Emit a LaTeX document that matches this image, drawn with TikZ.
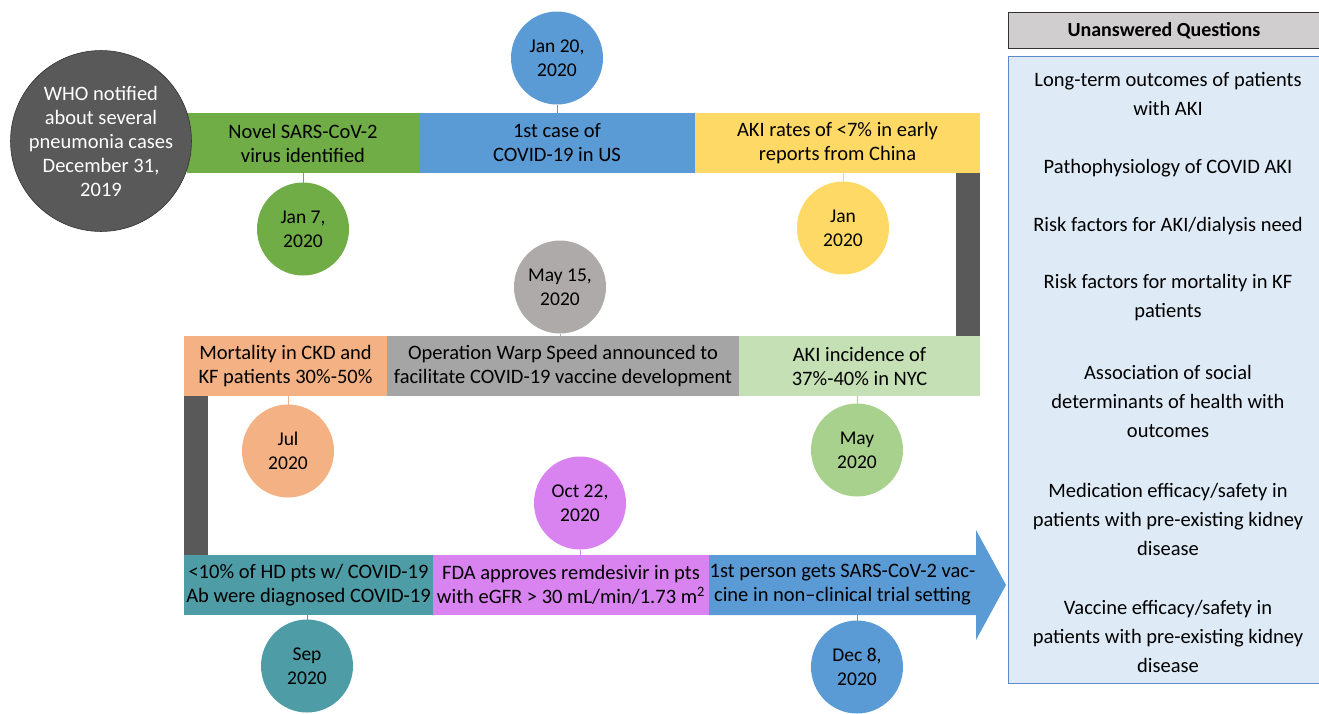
\documentclass[tikz,border=0pt]{standalone}
\usepackage{fontspec}
\setmainfont{Carlito}
\usetikzlibrary{shapes.geometric}
\definecolor{cgreen}{HTML}{70AD47}
\definecolor{cblue}{HTML}{5B9BD5}
\definecolor{cyellow}{HTML}{FFD966}
\definecolor{cdark}{HTML}{595959}
\definecolor{corange}{HTML}{F4B183}
\definecolor{cgraybar}{HTML}{A5A5A5}
\definecolor{cgraycirc}{HTML}{AEAAAA}
\definecolor{clgreen}{HTML}{C5E0B4}
\definecolor{clgreenc}{HTML}{A9D18E}
\definecolor{cteal}{HTML}{4E9CA6}
\definecolor{cpurple}{HTML}{D883F0}
\definecolor{cpanel}{HTML}{DEEBF7}
\definecolor{cpanelline}{HTML}{5B8BC9}
\definecolor{cheader}{HTML}{D0CECE}
\newcommand{\bartxt}{\fontsize{20.5}{24}\selectfont}
\newcommand{\datetxt}{\fontsize{19.5}{24}\selectfont}
\newcommand{\qtxt}{\fontsize{20.5}{29}\selectfont}
\begin{document}
\begin{tikzpicture}[x=1pt,y=-1pt,
  bar/.style={rectangle, inner sep=0pt, outer sep=0pt, minimum height=60pt, anchor=north west, align=center, font=\bartxt},
  vbar/.style={rectangle, inner sep=0pt, outer sep=0pt, anchor=north west, fill=cdark},
  date/.style={ellipse, inner sep=0pt, outer sep=0pt, minimum width=92pt, minimum height=93pt, align=center, font=\datetxt},
  link/.style={line width=0.8pt},
  qitem/.style={align=center, font=\qtxt, inner sep=0pt}
]
\useasboundingbox (0,0) rectangle (1319,713);
% vertical connectors
\node[vbar, minimum width=24pt, minimum height=165pt] (v1) at (956,172) {};
\node[vbar, minimum width=24pt, minimum height=161pt] (v2) at (184,395) {};
% row 1
\node[bar, fill=cgreen, minimum width=232pt] (b1) at (187,113) {Novel SARS-CoV-2\\virus identified};
\node[bar, fill=cblue, minimum width=276pt] (b2) at (419,113) {1st case of\\COVID-19 in US};
\node[bar, fill=cyellow, minimum width=285pt] (b3) at (695,113) {AKI rates of <7\% in early\\reports from China};
% row 2
\node[bar, fill=corange, minimum width=203pt] (b4) at (184,336) {Mortality in CKD and\\KF patients 30\%-50\%};
\node[bar, fill=cgraybar, minimum width=352pt] (b5) at (387,336) {Operation Warp Speed announced to\\facilitate COVID-19 vaccine development};
\node[bar, fill=clgreen, minimum width=241pt] (b6) at (739,336) {AKI incidence of\\37\%-40\% in NYC};
% row 3
\node[bar, fill=cteal, minimum width=249pt] (b7) at (184,555) {<10\% of HD pts w/ COVID-19\\Ab were diagnosed COVID-19};
\node[bar, fill=cpurple, minimum width=276pt] (b8) at (433,555) {FDA approves remdesivir in pts\\with eGFR > 30 mL/min/1.73 m\textsuperscript{2}};
\fill[cblue] (709,555) -- (976,555) -- (976,530) -- (1006,585) -- (976,640) -- (976,615) -- (709,615) -- cycle;
\node[bar, minimum width=267pt] (b9) at (709,555) {1st person gets SARS-CoV-2 vac-\\cine in non–clinical trial setting};
% WHO circle
\node[circle, fill=cdark, draw=black!80, line width=0.6pt, minimum size=180pt, inner sep=0pt, align=center, text=white, font=\bartxt] (who) at (101,141) {WHO notified\\about several\\pneumonia cases\\December 31,\\2019};
% date circles
\node[date, fill=cblue] (d2) at (557,58) {Jan 20,\\2020};
\node[date, fill=cgreen] (d1) at (303,229) {Jan 7,\\2020};
\node[date, fill=cyellow] (d3) at (843,228) {Jan\\2020};
\node[date, fill=cgraycirc] (d5) at (560,287) {May 15,\\2020};
\node[date, fill=corange] (d4) at (288,451) {Jul\\2020};
\node[date, fill=clgreenc] (d6) at (857,450) {May\\2020};
\node[date, fill=cpurple] (d8) at (580,503) {Oct 22,\\2020};
\node[date, fill=cteal] (d7) at (307,666) {Sep\\2020};
\node[date, fill=cblue] (d9) at (857,667) {Dec 8,\\2020};
% links
\draw[link, cblue] (d2.south) -- (d2.south |- b2.north);
\draw[link, cgreen] (d1.north) -- (d1.north |- b1.south);
\draw[link, cyellow] (d3.north) -- (d3.north |- b3.south);
\draw[link, cgraycirc] (d5.south) -- (d5.south |- b5.north);
\draw[link, corange] (d4.north) -- (d4.north |- b4.south);
\draw[link, clgreenc] (d6.north) -- (d6.north |- b6.south);
\draw[link, cpurple] (d8.south) -- (d8.south |- b8.north);
\draw[link, cteal] (d7.north) -- (d7.north |- b7.south);
\draw[link, cblue] (d9.north) -- (d9.north |- b9.south);
% right panel
\node[rectangle, fill=cheader, draw=black!80, line width=0.8pt, anchor=north west, minimum width=311pt, minimum height=36pt, inner sep=0pt, font=\bfseries\fontsize{20}{22}\selectfont] (hdr) at (1008,12) {Unanswered Questions};
\node[rectangle, fill=cpanel, draw=cpanelline, line width=0.9pt, anchor=north west, minimum width=311pt, minimum height=627pt, inner sep=0pt] (panel) at (1008,56) {};
\node[qitem] (q1) at (1168,93.5) {Long-term outcomes of patients\\with AKI};
\node[qitem] (q2) at (1168,168) {Pathophysiology of COVID AKI};
\node[qitem] (q3) at (1168,226) {Risk factors for AKI/dialysis need};
\node[qitem] (q4) at (1168,298) {Risk factors for mortality in KF\\patients};
\node[qitem] (q5) at (1168,401) {Association of social\\determinants of health with\\outcomes};
\node[qitem] (q6) at (1168,519) {Medication efficacy/safety in\\patients with pre-existing kidney\\disease};
\node[qitem] (q7) at (1168,636) {Vaccine efficacy/safety in\\patients with pre-existing kidney\\disease};
\end{tikzpicture}
\end{document}
